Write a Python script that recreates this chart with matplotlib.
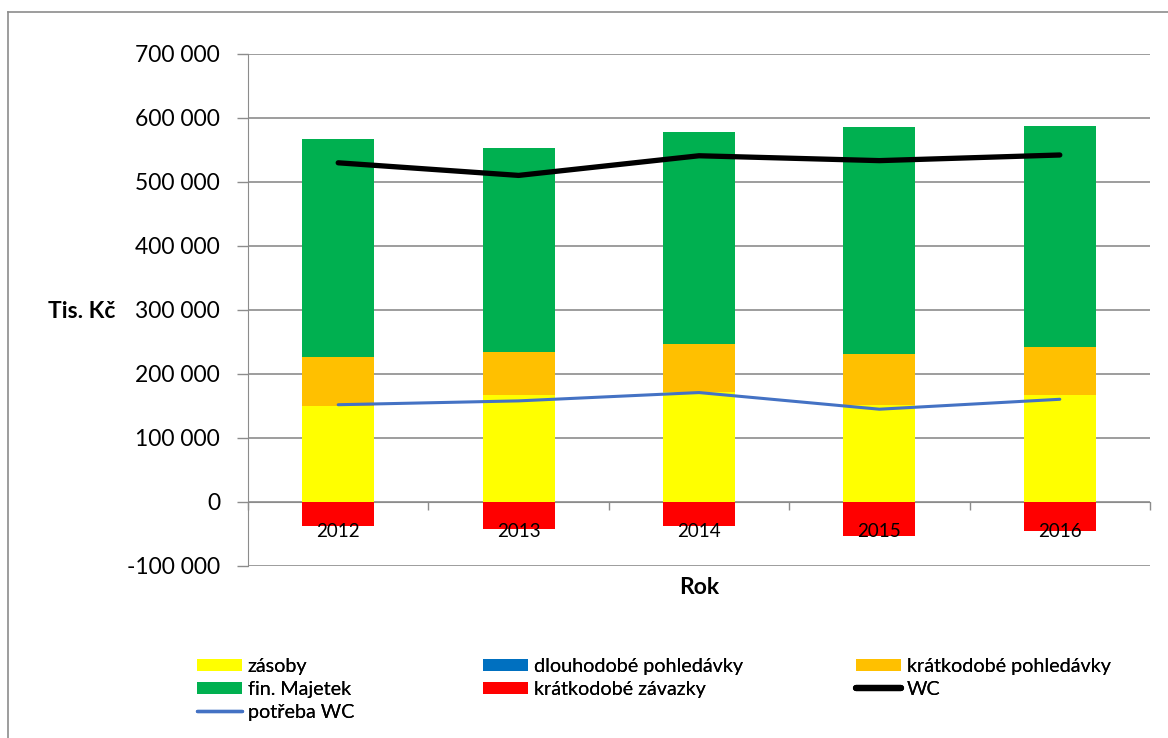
import matplotlib
matplotlib.use("Agg")
import matplotlib.pyplot as plt
from matplotlib.lines import Line2D
from matplotlib.patches import Patch
from matplotlib.ticker import FuncFormatter, FixedLocator
import numpy as np

plt.rcParams['font.family'] = ['Lato', 'DejaVu Sans']

# Working capital structure, thousands of CZK
years = ["2012", "2013", "2014", "2015", "2016"]
zasoby = [150000, 167000, 172000, 151000, 167000]
dlouhodobe_pohledavky = [0, 0, 0, 0, 0]
kratkodobe_pohledavky = [76600, 67000, 75000, 79700, 75700]
fin_majetek = [340400, 319000, 331000, 355300, 344800]
kratkodobe_zavazky = [-37000, -42700, -37000, -52600, -45300]
wc = [530000, 510300, 541000, 533400, 542200]
potreba_wc = [152000, 158000, 171000, 145000, 160500]

yticks = [-100000, 0, 100000, 200000, 300000, 400000, 500000, 600000, 700000]

C_YELLOW = "#FFFF00"
C_BLUE = "#0070C0"
C_ORANGE = "#FFC000"
C_GREEN = "#00B050"
C_RED = "#FF0000"
C_LINE = "#4472C4"

W, H = 1168, 738
fig = plt.figure(figsize=(W / 100, H / 100), dpi=100)
ax = fig.add_axes([248 / W, 1 - 566 / H, (1150 - 248) / W, (566 - 54) / H])

x = np.arange(len(years))
bw = 0.4

b1 = np.array(zasoby, dtype=float)
b2 = b1 + np.array(dlouhodobe_pohledavky)
b3 = b2 + np.array(kratkodobe_pohledavky)

ax.bar(x, zasoby, bw, color=C_YELLOW, zorder=2)
ax.bar(x, dlouhodobe_pohledavky, bw, bottom=b1, color=C_BLUE, zorder=2)
ax.bar(x, kratkodobe_pohledavky, bw, bottom=b2, color=C_ORANGE, zorder=2)
ax.bar(x, fin_majetek, bw, bottom=b3, color=C_GREEN, zorder=2)
ax.bar(x, kratkodobe_zavazky, bw, color=C_RED, zorder=2)

ax.plot(x, wc, color="black", lw=3.8, solid_capstyle="round",
        solid_joinstyle="round", zorder=4)
ax.plot(x, potreba_wc, color=C_LINE, lw=2.2, solid_capstyle="round",
        solid_joinstyle="round", zorder=4)

ax.set_xlim(-0.5, len(years) - 0.5)
ax.set_ylim(yticks[0], yticks[-1])

# y axis
ax.set_yticks(yticks)
ax.yaxis.set_major_formatter(FuncFormatter(lambda v, p: f"{int(v):,}".replace(",", " ")))
ax.tick_params(axis="y", length=8, width=1, color="#8c8c8c", pad=12,
               labelsize=16.5, labelcolor="black")
ax.yaxis.grid(True, color="#8c8c8c", lw=1.2, zorder=0)
ax.set_axisbelow(True)

# x axis sits on zero, ticks between categories
ax.spines["bottom"].set_position(("data", 0))
ax.spines["bottom"].set_color("#8c8c8c")
ax.spines["bottom"].set_zorder(0.5)
ax.spines["left"].set_color("#8c8c8c")
ax.spines["left"].set_zorder(0.5)
ax.spines["top"].set_visible(False)
ax.spines["right"].set_visible(False)
ax.xaxis.set_major_locator(FixedLocator(x))
ax.xaxis.set_minor_locator(FixedLocator(np.arange(len(years) + 1) - 0.5))
ax.set_xticklabels(years)
ax.tick_params(axis="x", which="major", length=0, pad=15, labelsize=13.5)
ax.tick_params(axis="x", which="minor", length=6, width=1, color="#8c8c8c",
               direction="out")
ax.xaxis.set_zorder(5)

fig.text(82 / W, 1 - 311 / H, "Tis. Kč", ha="center", va="center",
         fontsize=16.5, fontweight="bold")
fig.text(699 / W, 1 - 588 / H, "Rok", ha="center", va="center",
         fontsize=16.5, fontweight="bold")

# legend, laid out in three columns
h_zas = Patch(facecolor=C_YELLOW)
h_dlp = Patch(facecolor=C_BLUE)
h_krp = Patch(facecolor=C_ORANGE)
h_fin = Patch(facecolor=C_GREEN)
h_krz = Patch(facecolor=C_RED)
h_wc = Line2D([], [], color="black", lw=4.5, solid_capstyle="round")
h_pot = Line2D([], [], color=C_LINE, lw=2.4, solid_capstyle="round")

cols = [
    ([h_zas, h_fin, h_pot], ["zásoby", "fin. Majetek", "potřeba WC"], 197),
    ([h_dlp, h_krz], ["dlouhodobé pohledávky", "krátkodobé závazky"], 483),
    ([h_krp, h_wc], ["krátkodobé pohledávky", "WC"], 856),
]
for handles, labels, xpx in cols:
    leg = fig.legend(handles, labels, loc="upper left",
                     bbox_to_anchor=(xpx / W, 1 - 658 / H),
                     frameon=False, fontsize=14.2, borderpad=0, borderaxespad=0,
                     handlelength=2.3, handletextpad=0.28, labelspacing=0.3,
                     handleheight=0.6)
    fig.add_artist(leg)

# outer chart frame
fig.add_artist(Line2D([8 / W, 1.0], [1 - 12 / H, 1 - 12 / H],
                      transform=fig.transFigure, color="#8c8c8c", lw=1.2))
fig.add_artist(Line2D([8 / W, 8 / W], [1 - 12 / H, 0.0],
                      transform=fig.transFigure, color="#8c8c8c", lw=1.2))

fig.savefig("out.png", dpi=100)
